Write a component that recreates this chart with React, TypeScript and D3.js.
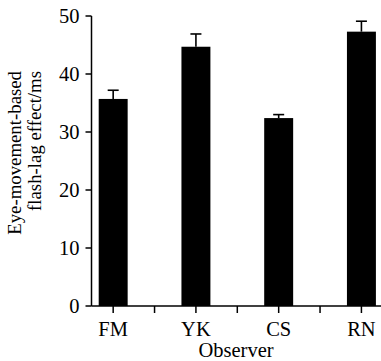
import React from "react";
import * as d3 from "d3";

const observers = ["FM", "YK", "CS", "RN"];
const means = [35.7, 44.7, 32.4, 47.3];
const errors = [1.5, 2.2, 0.6, 1.8];
const yTicks = [0, 10, 20, 30, 40, 50];
const yLabelLines = ["Eye-movement-based", "flash-lag effect/ms"];
const xLabel = "Observer";

const W = 381;
const H = 361;
const axisX = 91.5;
const axisY = 306;

export default function App() {
  const x = d3
    .scaleBand<string>()
    .domain(observers)
    .range([71.8, 402.8])
    .paddingInner(0.65)
    .paddingOuter(0.325);
  const y = d3.scaleLinear().domain([0, 50]).range([306, 16]);
  const bw = x.bandwidth();
  const step = x.step();
  const font = "'Liberation Serif', 'Times New Roman', serif";
  const minorTicks = observers.slice(0, -1).map((o) => (x(o) as number) + bw + (step - bw) / 2);

  return (
    <svg
      width={W}
      height={H}
      style={{ position: "absolute", left: 0, top: 0, background: "#fff" }}
      fontFamily={font}
    >
      {observers.map((o, i) => (
        <rect key={o} x={x(o)} y={y(means[i])} width={bw} height={y(0) - y(means[i])} fill="#000" />
      ))}
      {observers.map((o, i) => {
        const cx = (x(o) as number) + bw / 2;
        return (
          <g key={"e" + o} stroke="#000" strokeWidth={1.6}>
            <line x1={cx} x2={cx} y1={y(means[i])} y2={y(means[i] + errors[i])} />
            <line x1={cx - 5.5} x2={cx + 5.5} y1={y(means[i] + errors[i])} y2={y(means[i] + errors[i])} />
          </g>
        );
      })}
      <line x1={axisX} x2={axisX} y1={y(50)} y2={axisY} stroke="#000" strokeWidth={1.5} />
      {yTicks.map((t) => (
        <g key={"yt" + t}>
          <line x1={axisX - 6} x2={axisX} y1={y(t)} y2={y(t)} stroke="#000" strokeWidth={1.5} />
          <text x={axisX - 12} y={y(t)} dy="0.35em" textAnchor="end" fontSize={20.5} fill="#000">
            {t}
          </text>
        </g>
      ))}
      <line x1={axisX} x2={W} y1={axisY} y2={axisY} stroke="#000" strokeWidth={1.5} />
      {observers.map((o) => {
        const cx = (x(o) as number) + bw / 2;
        return (
          <g key={"xt" + o}>
            <line x1={cx} x2={cx} y1={axisY} y2={axisY + 7} stroke="#000" strokeWidth={1.5} />
            <text x={cx} y={336} textAnchor="middle" fontSize={20.5} fill="#000">
              {o}
            </text>
          </g>
        );
      })}
      {minorTicks.map((m, i) => (
        <line key={"mt" + i} x1={m} x2={m} y1={axisY} y2={axisY + 7} stroke="#000" strokeWidth={1.5} />
      ))}
      <text x={236} y={357} textAnchor="middle" fontSize={20.5} fill="#000">
        {xLabel}
      </text>
      {yLabelLines.map((l, i) => (
        <text
          key={"yl" + i}
          transform={`translate(${21 + i * 20},71) rotate(-90)`}
          textAnchor="end"
          fontSize={18.8}
          fill="#000"
        >
          {l}
        </text>
      ))}
    </svg>
  );
}
